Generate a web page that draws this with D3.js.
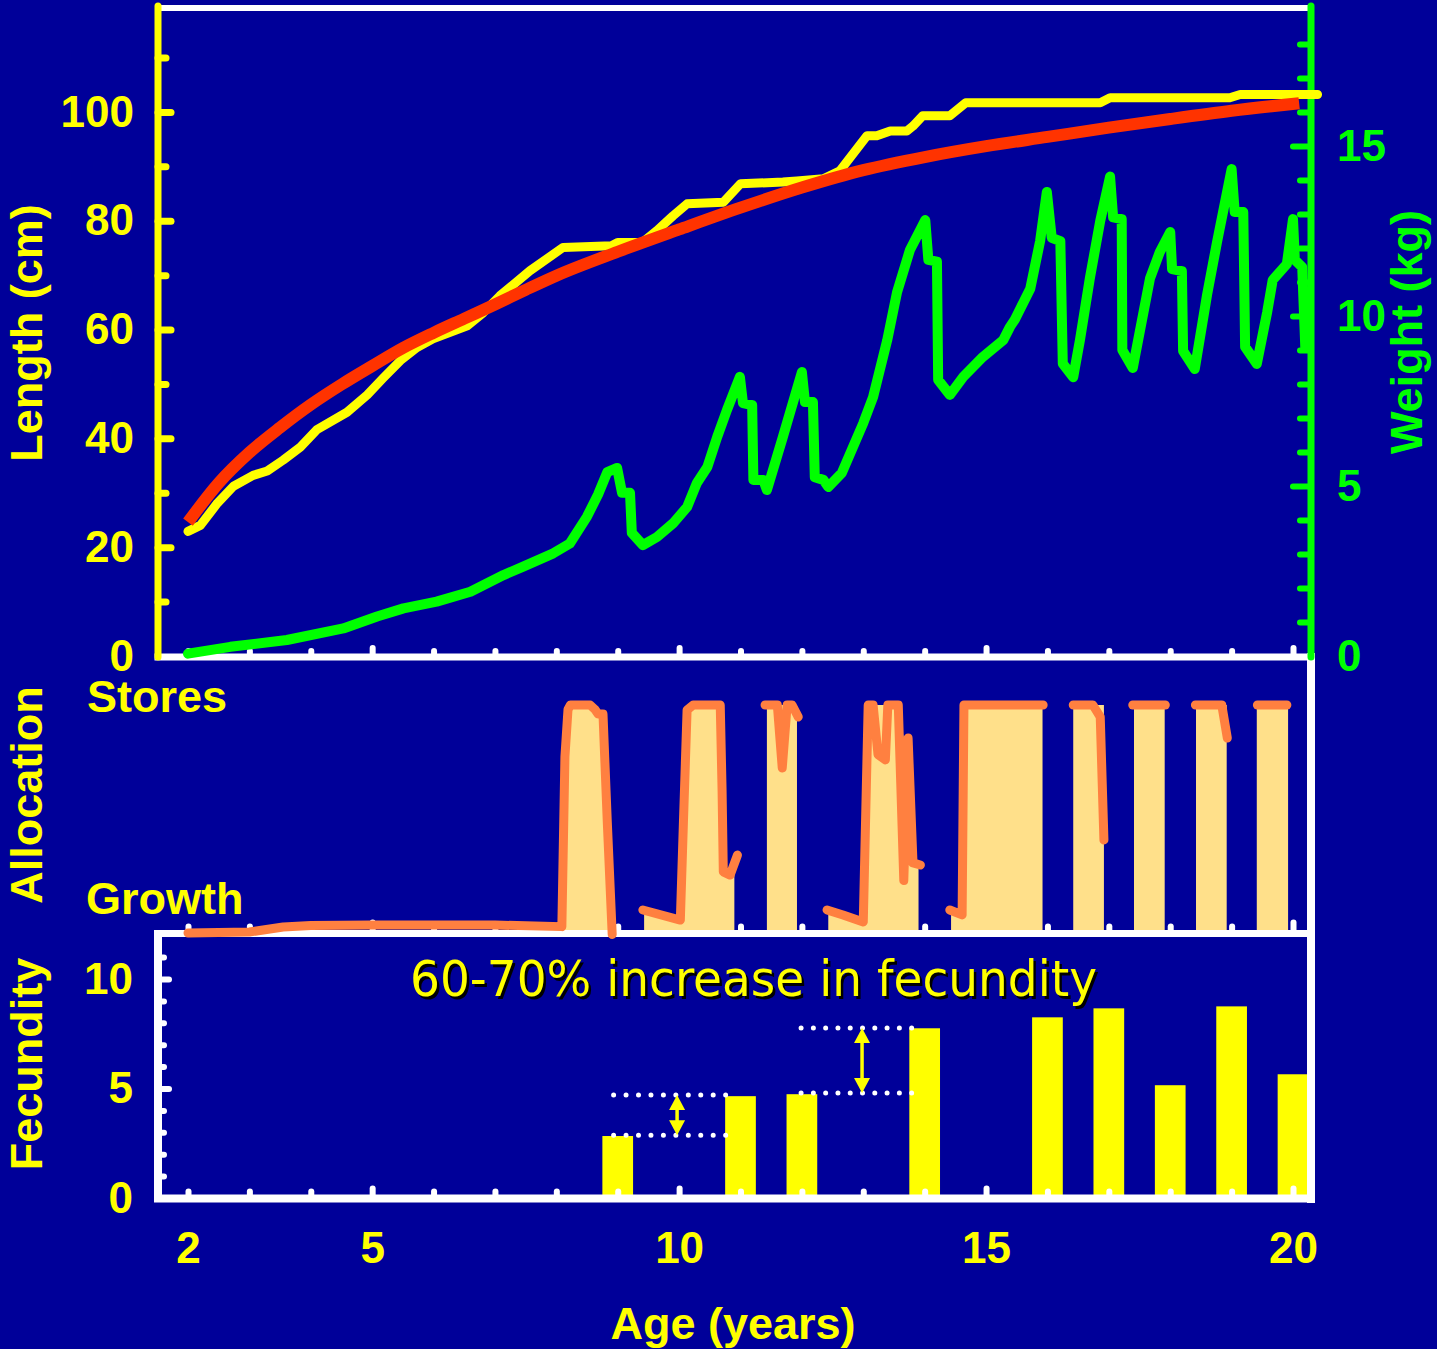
<!DOCTYPE html>
<html><head><meta charset="utf-8">
<script src="https://cdn.jsdelivr.net/npm/d3@7"></script>
<style>html,body{margin:0;padding:0;background:#000099;}svg{display:block;}</style>
</head><body>
<script>
// ---------- DATA ----------
const ageTicks = [2, 5, 10, 15, 20];
const ageMinorTicks = d3.range(2, 21);
const lengthTicks = [0, 20, 40, 60, 80, 100];
const lengthMinorTicks = [10, 30, 50, 70, 90, 110];
const weightTicks = [0, 5, 10, 15];
const weightMinorTicks = [1,2,3,4,6,7,8,9,11,12,13,14,16,17,18];
const fecundityTicks = [0, 5, 10];
const fecundityMinorTicks = [1,2,3,4,6,7,8,9,11];

// observed length (age, cm)
const lengthObserved = [
  [2.0,22.9],[2.2,24.0],[2.48,28.1],[2.74,31.2],[3.06,33.2],[3.29,34.0],[3.55,36.0],[3.83,38.4],
  [4.10,41.6],[4.59,44.8],[4.92,48.0],[5.18,51.1],[5.46,54.3],[5.73,56.7],[5.99,58.3],[6.55,60.7],
  [6.81,63.1],[7.08,66.2],[7.57,70.8],[8.11,75.1],[8.9,75.4],[9.0,76.0],[9.4,76.0],[9.64,78.2],
  [9.9,80.9],[10.13,83.1],[10.72,83.4],[11.0,86.8],[11.69,87.1],[11.92,87.3],[12.35,87.7],
  [12.62,89.2],[13.06,95.6],[13.22,95.6],[13.44,96.5],[13.71,96.5],[13.81,97.4],[13.97,99.3],
  [14.41,99.3],[14.67,101.7],[16.86,101.7],[17.02,102.6],[18.97,102.6],[19.14,103.2],[20.4,103.2]
];
// fitted growth curve (age, cm)
const lengthModel = [
  [2.0,24.6],[2.5,31.8],[3.0,37.4],[3.5,42.0],[4.0,46.2],[4.5,49.9],[5.0,53.3],[5.5,56.6],
  [6.0,59.4],[6.5,62.0],[7.0,64.6],[7.5,67.3],[8.0,69.9],[9.0,74.3],[10.0,78.4],[11.0,82.4],
  [12.0,86.1],[13.0,89.3],[14.0,91.7],[15.0,93.7],[16.0,95.4],[17.0,97.1],[18.0,98.7],
  [19.0,100.2],[20.1,101.6]
];
// weight (age, kg)
const weightSeries = [
  [2.0,0.07],[2.69,0.27],[3.61,0.47],[4.53,0.81],[5.08,1.16],[5.51,1.4],[6.05,1.6],[6.6,1.89],
  [7.14,2.38],[7.46,2.63],[7.95,3.02],[8.22,3.31],[8.5,4.1],[8.68,4.75],[8.83,5.41],[8.99,5.53],
  [9.07,4.8],[9.2,4.8],[9.23,3.62],[9.41,3.26],[9.64,3.5],[9.9,3.9],
  [10.13,4.38],[10.29,5.09],[10.46,5.56],[10.62,6.44],[10.78,7.24],[10.99,8.21],[11.04,7.44],
  [11.19,7.38],[11.21,5.18],[11.37,5.18],[11.43,4.88],[11.69,6.44],[12.0,8.35],[12.05,7.47],
  [12.18,7.47],[12.21,5.26],[12.35,5.18],[12.43,4.97],[12.65,5.38],[13.0,6.85],[13.16,7.62],
  [13.39,9.29],[13.55,10.7],[13.76,11.94],[14.01,12.82],[14.06,11.65],[14.2,11.6],[14.22,8.12],
  [14.41,7.68],[14.63,8.21],[14.95,8.8],[15.28,9.29],[15.39,9.68],[15.47,9.9],[15.72,10.8],
  [15.88,12.2],[15.99,13.65],[16.07,12.3],[16.21,12.2],[16.25,8.6],[16.42,8.2],[16.53,9.3],
  [16.69,11.1],[16.86,12.8],[17.02,14.1],[17.07,12.9],[17.21,12.85],[17.22,9.0],[17.39,8.47],
  [17.67,11.1],[17.83,11.88],[18.0,12.47],[18.03,11.38],[18.19,11.32],[18.21,8.97],[18.4,8.44],
  [18.6,10.62],[18.76,12.15],[19.0,14.32],[19.05,13.06],[19.19,13.06],[19.22,9.09],[19.41,8.59],
  [19.58,10.12],[19.67,11.06],[19.9,11.53],[20.0,12.85],[20.03,11.65],[20.15,11.44],[20.2,9.09]
];
// allocation (0 = growth, 1 = stores), separate line pieces
const allocationPieces = [
  [[2.0,-0.013],[3.0,-0.009],[3.55,0.013],[4.0,0.02],[5.0,0.022],[7.0,0.022],[8.09,0.015],[8.14,0.77],
   [8.19,0.98],[8.23,1],[8.55,1],[8.63,0.98],[8.68,0.96],[8.76,0.96],[8.83,0.48],[8.91,-0.02]],
  [[9.41,0.089],[10.02,0.044],[10.07,0.476],[10.13,0.978],[10.23,1],[10.67,1],[10.7,0.62],
   [10.72,0.258],[10.83,0.244],[10.95,0.333]],
  [[11.4,1],[11.6,1],[11.68,0.72],[11.76,1],[11.84,1],[11.94,0.947]],
  [[12.41,0.089],[12.67,0.067],[13.0,0.036],[13.08,1],[13.16,1],[13.24,0.78],[13.36,0.756],[13.4,1],
   [13.57,1],[13.66,0.22],[13.73,0.853],[13.81,0.298],[13.93,0.289]],
  [[14.41,0.089],[14.61,0.067],[14.64,1],[15.93,1]],
  [[16.42,1],[16.74,1],[16.86,0.947],[16.92,0.4]],
  [[17.39,1],[17.92,1]],
  [[18.41,1],[18.84,1],[18.93,0.853]],
  [[19.42,1],[19.9,1]]
];
// shaded spawning-season bands (age, top)
const allocationFills = [
  [[8.11,0],[8.14,0.77],[8.19,0.98],[8.23,1],[8.55,1],[8.63,0.98],[8.68,0.96],[8.76,0.96],[8.83,0.48],[8.92,0]],
  [[9.43,0],[9.43,0.085],[10.02,0.044],[10.07,0.476],[10.13,0.978],[10.23,1],[10.67,1],[10.7,0.62],
   [10.72,0.258],[10.83,0.244],[10.9,0.31],[10.9,0]],
  [[11.43,0],[11.43,1],[11.92,1],[11.92,0]],
  [[12.43,0],[12.43,0.085],[12.67,0.067],[13.0,0.036],[13.08,1],[13.57,1],[13.66,0.85],[13.73,0.853],
   [13.81,0.298],[13.9,0.29],[13.9,0]],
  [[14.43,0],[14.43,0.085],[14.61,0.067],[14.64,1],[15.92,1],[15.92,0]],
  [[16.42,0],[16.42,1],[16.92,1],[16.92,0]],
  [[17.41,0],[17.41,1],[17.91,1],[17.91,0]],
  [[18.42,0],[18.42,1],[18.92,1],[18.92,0]],
  [[19.41,0],[19.41,1],[19.92,1],[19.92,0]]
];
const fecundityAges = [9, 11, 12, 14, 16, 17, 18, 19, 20];
const fecundityValues = [2.83, 4.65, 4.74, 7.75, 8.25, 8.66, 5.15, 8.75, 5.65];
const fecundityBarWidth = 0.5; // years
// dotted comparison lines with double arrows
const annotations = [
  {x0: 8.933, x1: 10.961, lo: 2.87, hi: 4.70, ax: 9.967},
  {x0: 11.987, x1: 13.788, lo: 4.79, hi: 7.76, ax: 12.98}
];
const noteText = "60-70% increase in fecundity";

// ---------- SETUP ----------
const W = 1437, H = 1349;
const C = {bg:"#000099", yellow:"#FFFF00", red:"#FF3300", green:"#00FF00", orange:"#FF8040",
           fill:"#FFE08A", white:"#FFFFFF"};
const FONT = "'Liberation Sans', Arial, Helvetica, sans-serif";
const L = 158, R = 1311;

const svg = d3.select("body").append("svg").attr("width", W).attr("height", H);
svg.append("rect").attr("width", W).attr("height", H).attr("fill", C.bg);

const x = d3.scaleLinear().domain([2, 20]).range([188, 1293]);
const yLen = d3.scaleLinear().domain([0, 110]).range([656, 57.5]);
const yW = d3.scaleLinear().domain([0, 15]).range([656, 146]);
const yA = d3.scaleLinear().domain([0, 1]).range([930, 705]);
const yF = d3.scaleLinear().domain([0, 10]).range([1198, 979]);

// ---------- FECUNDITY BARS ----------
const bw = x(fecundityBarWidth) - x(0);
svg.append("g").selectAll("rect").data(fecundityAges).join("rect")
  .attr("x", (d) => x(d) - bw / 2)
  .attr("width", bw)
  .attr("y", (d, i) => yF(fecundityValues[i]))
  .attr("height", (d, i) => yF(0) - yF(fecundityValues[i]))
  .attr("fill", C.yellow);

// annotations
const ann = svg.append("g");
annotations.forEach(a => {
  [a.lo, a.hi].forEach(v => {
    const len = x(a.x1) - x(a.x0);
    const step = len / Math.round(len / 12.4);
    ann.append("line").attr("x1", x(a.x0)).attr("x2", x(a.x1)).attr("y1", yF(v)).attr("y2", yF(v))
      .attr("stroke", C.white).attr("stroke-width", 5).attr("stroke-linecap", "round")
      .attr("stroke-dasharray", "0 " + step);
  });
  const ax = x(a.ax), yt = yF(a.hi), yb = yF(a.lo);
  ann.append("line").attr("x1", ax).attr("x2", ax).attr("y1", yt + 8).attr("y2", yb - 8)
    .attr("stroke", C.yellow).attr("stroke-width", 3.5);
  ann.append("path").attr("d", `M${ax},${yt} L${ax - 8},${yt + 15} L${ax + 8},${yt + 15} Z`).attr("fill", C.yellow);
  ann.append("path").attr("d", `M${ax},${yb} L${ax - 8},${yb - 15} L${ax + 8},${yb - 15} Z`).attr("fill", C.yellow);
});

// note text with shadow
const noteX = 753.5, noteY = 996;
const NARROW = "'Liberation Sans Narrow','Arial Narrow','DejaVu Sans Condensed',sans-serif";
svg.append("text").attr("x", noteX + 2.5).attr("y", noteY + 2.5).text(noteText)
  .attr("text-anchor", "middle").attr("font-family", NARROW)
  .attr("font-size", 50).attr("fill", "#000000").attr("textLength", 687).attr("lengthAdjust", "spacingAndGlyphs");
svg.append("text").attr("x", noteX).attr("y", noteY).text(noteText)
  .attr("text-anchor", "middle").attr("font-family", NARROW)
  .attr("font-size", 50).attr("fill", C.yellow).attr("textLength", 687).attr("lengthAdjust", "spacingAndGlyphs");

// ---------- FRAME ----------
const frame = svg.append("g");
function seg(x1, y1, x2, y2, col, w, cap) {
  frame.append("line").attr("x1", x1).attr("y1", y1).attr("x2", x2).attr("y2", y2)
    .attr("stroke", col).attr("stroke-width", w).attr("stroke-linecap", cap || "square");
}
seg(L, 8, R, 8, C.white, 6);
seg(L, 657, R, 657, C.white, 7);
seg(L, 933.5, R, 933.5, C.white, 7);
seg(L, 934, L, 1198, C.white, 8);
seg(L, 1198.5, R, 1198.5, C.white, 8);
seg(R, 657, R, 1199, C.white, 8);
seg(L, 6, L, 657, C.yellow, 7, "round");
seg(R, 6, R, 657, C.green, 7, "round");

// ---------- TICKS ----------
function ticksOnly(g, col, w) {
  g.select(".domain").remove();
  g.selectAll("line").attr("stroke", col).attr("stroke-width", w).attr("stroke-linecap", "round");
  g.selectAll("text").remove();
}
const ageMin = ageMinorTicks.filter(d => d % 5 !== 0);
const ageMaj = ageMinorTicks.filter(d => d % 5 === 0);
[[657, 6, 9], [933.5, 7, 11], [1198.5, 7, 10]].forEach(([yy, smin, smaj]) => {
  svg.append("g").attr("transform", `translate(0,${yy})`)
    .call(d3.axisTop(x).tickValues(ageMin).tickSize(smin)).call(g => ticksOnly(g, C.white, 6));
  svg.append("g").attr("transform", `translate(0,${yy})`)
    .call(d3.axisTop(x).tickValues(ageMaj).tickSize(smaj)).call(g => ticksOnly(g, C.white, 6));
});
// length axis ticks
svg.append("g").attr("transform", `translate(${L},0)`)
  .call(d3.axisRight(yLen).tickValues(lengthMinorTicks).tickSize(8)).call(g => ticksOnly(g, C.yellow, 7));
svg.append("g").attr("transform", `translate(${L},0)`)
  .call(d3.axisRight(yLen).tickValues(lengthTicks.filter(d => d > 0)).tickSize(13)).call(g => ticksOnly(g, C.yellow, 7));
// weight axis ticks
svg.append("g").attr("transform", `translate(${R},0)`)
  .call(d3.axisLeft(yW).tickValues(weightMinorTicks).tickSize(11)).call(g => ticksOnly(g, C.green, 6));
svg.append("g").attr("transform", `translate(${R},0)`)
  .call(d3.axisLeft(yW).tickValues(weightTicks.filter(d => d > 0)).tickSize(18)).call(g => ticksOnly(g, C.green, 6));
// fecundity axis ticks
svg.append("g").attr("transform", `translate(${L},0)`)
  .call(d3.axisRight(yF).tickValues(fecundityMinorTicks).tickSize(6)).call(g => ticksOnly(g, C.white, 6));
svg.append("g").attr("transform", `translate(${L},0)`)
  .call(d3.axisRight(yF).tickValues(fecundityTicks.filter(d => d > 0)).tickSize(11)).call(g => ticksOnly(g, C.white, 6));

// ---------- ALLOCATION ----------
const area = d3.area().x(d => x(d[0])).y0(yA(0)).y1(d => yA(d[1]));
svg.append("g").selectAll("path").data(allocationFills).join("path")
  .attr("d", area).attr("fill", C.fill);
const aline = d3.line().x(d => x(d[0])).y(d => yA(d[1]));
svg.append("g").selectAll("path").data(allocationPieces).join("path")
  .attr("d", aline).attr("fill", "none").attr("stroke", C.orange).attr("stroke-width", 9)
  .attr("stroke-linecap", "round").attr("stroke-linejoin", "round");

// ---------- TOP PANEL LINES ----------
const lineLen = d3.line().x(d => x(d[0])).y(d => yLen(d[1]));
svg.append("path").datum(lengthObserved).attr("d", lineLen).attr("fill", "none")
  .attr("stroke", C.yellow).attr("stroke-width", 9).attr("stroke-linecap", "round").attr("stroke-linejoin", "round");
svg.append("path").datum(lengthModel).attr("d", lineLen.curve(d3.curveMonotoneX)).attr("fill", "none")
  .attr("stroke", C.red).attr("stroke-width", 12).attr("stroke-linecap", "butt");
const lineW = d3.line().x(d => x(d[0])).y(d => yW(d[1]));
svg.append("path").datum(weightSeries).attr("d", lineW).attr("fill", "none")
  .attr("stroke", C.green).attr("stroke-width", 10).attr("stroke-linecap", "round").attr("stroke-linejoin", "round");

// ---------- LABELS ----------
function labelAxis(g, col, size) {
  g.select(".domain").remove();
  g.selectAll("line").remove();
  g.selectAll("text").attr("fill", col).attr("font-family", FONT).attr("font-weight", "bold").attr("font-size", size);
}
svg.append("g").attr("transform", `translate(${L},0)`)
  .call(d3.axisLeft(yLen).tickValues(lengthTicks).tickSize(0).tickPadding(24))
  .call(g => labelAxis(g, C.yellow, 44));
svg.append("g").attr("transform", `translate(${R},0)`)
  .call(d3.axisRight(yW).tickValues(weightTicks).tickSize(0).tickPadding(26))
  .call(g => labelAxis(g, C.green, 44));
svg.append("g").attr("transform", `translate(${L},0)`)
  .call(d3.axisLeft(yF).tickValues(fecundityTicks).tickSize(0).tickPadding(25))
  .call(g => labelAxis(g, C.yellow, 44));
svg.append("g").attr("transform", `translate(0,1198)`)
  .call(d3.axisBottom(x).tickValues(ageTicks).tickSize(0))
  .call(g => { labelAxis(g, C.yellow, 44); g.selectAll("text").attr("y", 65).attr("dy", 0); });

function title(txt, tx, ty, col, rot) {
  svg.append("text").attr("transform", `translate(${tx},${ty}) rotate(${rot})`)
    .attr("text-anchor", "middle").attr("fill", col).attr("font-family", FONT)
    .attr("font-weight", "bold").attr("font-size", 45).text(txt);
}
title("Length (cm)", 42, 333, C.yellow, -90);
title("Allocation", 42, 795, C.yellow, -90);
title("Fecundity", 42, 1064, C.yellow, -90);
title("Weight (kg)", 1422, 332, C.green, -90);
title("Age (years)", 733, 1339, C.yellow, 0);
svg.append("text").attr("x", 87).attr("y", 712).attr("fill", C.yellow).attr("font-family", FONT)
  .attr("font-weight", "bold").attr("font-size", 45).text("Stores");
svg.append("text").attr("x", 86).attr("y", 914).attr("fill", C.yellow).attr("font-family", FONT)
  .attr("font-weight", "bold").attr("font-size", 45).text("Growth");
</script>
</body></html>
